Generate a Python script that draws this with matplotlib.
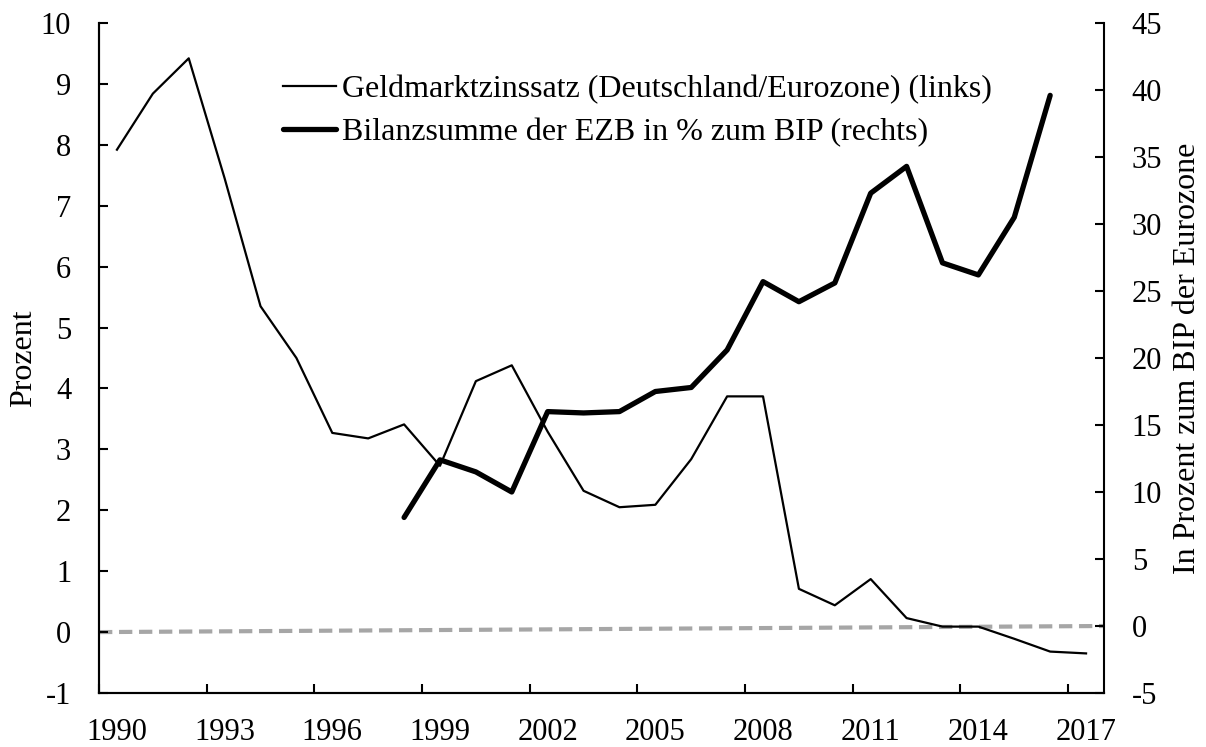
import numpy as np
import matplotlib
matplotlib.use("Agg")
import matplotlib.pyplot as plt

plt.rcParams['font.family'] = ['Liberation Serif', 'DejaVu Serif']
plt.rcParams['font.size'] = 22
plt.rcParams['axes.unicode_minus'] = False  # "-1" statt "−1"

# Daten
jahre = list(range(1990, 2018))
geldmarkt = [7.92, 8.84, 9.42, 7.45, 5.35, 4.50, 3.27, 3.18, 3.41, 2.73,
             4.12, 4.38, 3.29, 2.32, 2.05, 2.09, 2.84, 3.87, 3.87, 0.71,
             0.44, 0.87, 0.23, 0.09, 0.09, -0.11, -0.32, -0.35]
bilanz_jahre = list(range(1998, 2017))
bilanz = [8.1, 12.4, 11.5, 10.0, 16.0, 15.9, 16.0, 17.5, 17.8, 20.6,
          25.7, 24.2, 25.6, 32.3, 34.3, 27.1, 26.2, 30.5, 39.6]
label_jahre = jahre[::3]

label_geld = "Geldmarktzinssatz (Deutschland/Eurozone) (links)"
label_bilanz = "Bilanzsumme der EZB in % zum BIP (rechts)"

fig = plt.figure(figsize=(12.06, 7.47), dpi=100)
ax = fig.add_axes([99 / 1206, 1 - 693 / 747, (1104 - 99) / 1206, (693 - 23) / 747])
ax2 = ax.twinx()

# Kategorie-Achse: Punkte in der Mitte der Kategorien
x_geld = np.array(jahre) - jahre[0] + 0.5
x_bilanz = np.array(bilanz_jahre) - jahre[0] + 0.5

ylim_l = (-1, 10)
ylim_r = (-5, 45)

# Nulllinie (links 0 -> rechts 0)
y0_l = (0 - ylim_l[0]) / (ylim_l[1] - ylim_l[0])
y0_r = (0 - ylim_r[0]) / (ylim_r[1] - ylim_r[0])
ax.plot([0, 1], [y0_l, y0_r], transform=ax.transAxes, color='#a6a6a6',
        lw=3, dashes=(3.2, 1.6), zorder=1, clip_on=False)

l1, = ax.plot(x_geld, geldmarkt, color='black', lw=1.6, zorder=3,
              label=label_geld)
l2, = ax2.plot(x_bilanz, bilanz, color='black', lw=3.8, zorder=3,
               solid_capstyle='round', solid_joinstyle='round',
               label=label_bilanz)

ax.set_xlim(0, len(jahre))
ax.set_ylim(*ylim_l)
ax2.set_ylim(*ylim_r)
ax.set_yticks(range(-1, 11))
ax2.set_yticks(range(-5, 46, 5))

ax.set_xticks(range(0, len(jahre), 3))
ax.set_xticklabels([])
ax.set_xticks(np.arange(0, len(jahre), 3) + 0.5, minor=True)
ax.set_xticklabels([str(j) for j in label_jahre], minor=True)
ax.tick_params(axis='x', which='major', direction='in', length=6.5, width=1.5)
ax.tick_params(axis='x', which='minor', length=0, pad=18)
ax.tick_params(axis='y', direction='in', length=6.5, width=1.5, pad=20)
ax2.tick_params(axis='y', direction='in', length=6.5, width=1.5, pad=20)

for a in (ax, ax2):
    a.spines['top'].set_visible(False)
    for s in ('left', 'right', 'bottom'):
        a.spines[s].set_linewidth(1.5)
ax.spines['right'].set_visible(False)

ax.set_ylabel("Prozent", labelpad=2, fontsize=23)
ax2.set_ylabel("In Prozent zum BIP der Eurozone", labelpad=8, fontsize=23)

fig.legend(handles=[l1, l2], loc='upper left', bbox_to_anchor=(283 / 1206, 1 - 75 / 747),
           frameon=False, borderpad=0, handlelength=1.65, handletextpad=0.2,
           labelspacing=0.42, fontsize=23, borderaxespad=0)

fig.savefig("out.png", dpi=100)
